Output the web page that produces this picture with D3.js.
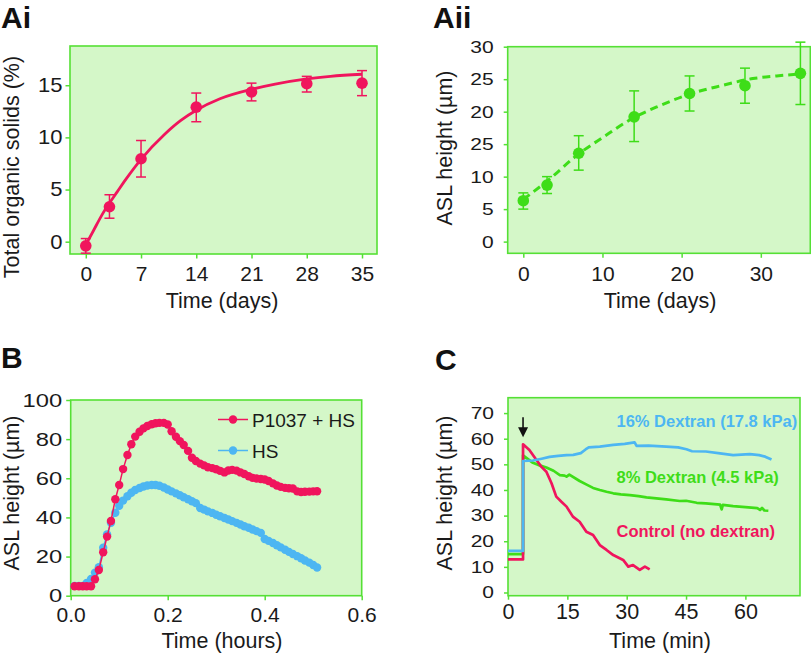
<!DOCTYPE html>
<html><head><meta charset="utf-8">
<script src="https://cdn.jsdelivr.net/npm/d3@7"></script>
<style>
body{margin:0;background:#fff}
svg{display:block}
text{font-family:"Liberation Sans",Arial,Helvetica,sans-serif}
</style>
</head><body>
<svg id="chart" width="811" height="657"></svg>
<script>
// ---------- Panel Ai : total organic solids ----------
const aiDays = [0, 3, 7, 14, 21, 28, 35];
const aiMean = [-0.4, 3.35, 7.95, 12.9, 14.35, 15.15, 15.2];
const aiLow  = [-1.1, 2.25, 6.2, 11.5, 13.5, 14.35, 14.0];
const aiHigh = [0.3, 4.5, 9.7, 14.25, 15.2, 15.85, 16.4];
const aiFitDays   = [0, 1, 2, 3, 4, 5, 7, 10, 12, 14, 17, 21, 24, 28, 31, 35];
const aiFitValues = [-0.3, 1.1, 2.5, 3.7, 4.8, 5.9, 7.9, 10.3, 11.6, 12.6, 13.7, 14.6, 15.1, 15.6, 15.85, 16.05];
const aiXTicks = [0, 7, 14, 21, 28, 35];
const aiYTicks = [0, 5, 10, 15];

// ---------- Panel Aii : ASL height vs days ----------
const aiiDays = [0, 3, 7, 14, 21, 28, 35];
const aiiMean = [6.3, 8.7, 13.6, 19.2, 22.8, 24.0, 25.9];
const aiiLow  = [5.0, 7.4, 11.0, 15.4, 20.1, 21.3, 21.1];
const aiiHigh = [7.5, 10.0, 16.3, 23.2, 25.5, 26.7, 30.7];
const aiiFitDays   = [0, 3, 7, 10, 14, 17, 21, 25, 29, 32, 35];
const aiiFitValues = [6.5, 9.3, 13.5, 16.0, 19.1, 20.8, 22.7, 24.0, 25.1, 25.5, 25.8];
const aiiXTicks = [0, 10, 20, 30];
const aiiYTicks = [0, 5, 10, 15, 20, 25, 30];
const aiiYTickLabels = ["0", "5", "10", "25", "20", "25", "30"];

// ---------- Panel B : ASL height vs hours ----------
const bTime = [0.008,0.017,0.025,0.033,0.042,0.050,0.058,0.067,0.075,0.083,0.092,0.100,0.108,0.117,0.125,0.133,0.142,0.150,0.158,0.167,0.175,0.183,0.192,0.200,0.208,0.217,0.225,0.233,0.242,0.250,0.258,0.267,0.275,0.283,0.292,0.300,0.308,0.317,0.325,0.333,0.342,0.350,0.358,0.367,0.375,0.383,0.392,0.400,0.408,0.417,0.425,0.433,0.442,0.450,0.458,0.467,0.475,0.483,0.492,0.500,0.508];
const bP1037 = [4.8,4.8,4.8,4.8,4.8,8.4,13.1,22.2,30.2,38.2,49.3,56.6,64.7,71.9,77.4,81.3,83.8,85.5,86.7,87.6,88.1,88.3,88.3,87.5,84.0,81.2,79.0,77.0,74.0,70.5,68.8,67.5,66.6,65.6,65.2,64.6,63.8,63.0,64.0,64.3,63.9,63.0,62.2,61.0,60.2,59.9,59.6,59.4,58.6,57.4,56.3,55.6,55.1,54.9,54.8,53.3,53.0,53.1,53.2,53.3,53.4];
const bHS = [5,5,5,6.5,8.5,11.8,14.5,24.5,31.3,37.3,42.4,46.0,48.6,50.8,52.6,54.0,55.0,55.8,56.3,56.6,56.6,56.2,55.3,54.3,53.3,52.3,51.3,50.3,49.3,48.3,47.3,44.8,44.0,43.1,42.3,41.4,40.6,39.7,38.9,38.1,37.2,36.4,35.5,34.7,33.8,33.0,32.1,29.0,28.0,26.9,25.8,24.7,23.5,22.4,21.3,20.2,19.1,18.0,16.9,15.7,14.4];
const bLegend = ["P1037 + HS", "HS"];
const bXTicks = [0, 0.2, 0.4, 0.6];
const bYTicks = [0, 20, 40, 60, 80, 100];

// ---------- Panel C : dextran ----------
const cBlueT = [0, 3.8, 3.8, 6.3, 8.5, 10.5, 12.7, 14.8, 16.5, 18.4, 19.6, 20.4, 23.2, 26.6, 29.5, 32.0, 32.5, 35.5, 40.0, 43.0, 45.1, 46.5, 50.0, 53.6, 56.9, 59.0, 61.1, 63.5, 65.0, 66.6];
const cBlueV = [16.2, 16.2, 51.3, 51.5, 52.2, 52.9, 53.3, 53.6, 53.7, 54.4, 55.8, 56.6, 56.9, 57.6, 58.0, 58.6, 57.2, 57.3, 56.9, 56.6, 55.9, 55.1, 55.0, 54.3, 53.6, 53.8, 54.0, 53.6, 53.0, 51.9];
const cGreenT = [0, 3.8, 3.8, 6.3, 8.0, 9.7, 11.5, 13.1, 14.3, 14.8, 15.5, 18.1, 20.0, 21.5, 23.2, 24.9, 26.6, 28.5, 30.8, 33.0, 35.0, 37.5, 40.0, 43.4, 45.0, 47.7, 50.0, 53.6, 54.0, 54.3, 56.9, 60.0, 63.0, 63.7, 64.2, 64.8, 65.8];
const cGreenV = [15.0, 15.0, 53.5, 50.6, 49.6, 48.8, 47.5, 45.8, 45.6, 45.2, 46.0, 43.5, 42.0, 40.8, 40.0, 39.3, 38.7, 38.3, 38.0, 37.6, 37.1, 36.7, 36.3, 35.7, 35.8, 35.0, 34.8, 34.3, 32.4, 34.2, 33.7, 33.3, 32.9, 32.2, 33.0, 32.0, 31.9];
const cRedT = [0, 3.8, 3.8, 5.4, 7.2, 8.4, 9.7, 11.0, 12.2, 13.5, 14.8, 16.4, 18.1, 19.8, 21.5, 23.2, 24.9, 26.6, 29.1, 30.4, 31.6, 33.3, 34.6, 35.8];
const cRedV = [12.9, 12.9, 57.8, 55.6, 51.7, 49.1, 47.1, 42.6, 37.4, 35.4, 33.5, 29.6, 27.6, 23.7, 22.4, 18.5, 16.6, 14.6, 12.7, 10.1, 10.7, 8.8, 10.1, 9.0];
const cLabels = ["16% Dextran (17.8 kPa)", "8% Dextran (4.5 kPa)", "Control (no dextran)"];
const cArrowTime = 3.8;
const cArrowFrom = 68.4, cArrowTo = 60.6;
const cXTicks = [0, 15, 30, 45, 60];
const cYTicks = [0, 10, 20, 30, 40, 50, 60, 70];

// ---------- styles ----------
const RED = "#f0155d", BLUE = "#4db6f2", GREEN = "#3edd18";
const FILL = "#d4f7c8", EDGE = "#55e035";
const svg = d3.select("#chart");

function frame(xs, ys) {
  const [x0, x1] = xs.range(), [y0, y1] = ys.range();
  svg.append("rect").attr("x", x0).attr("y", y1)
    .attr("width", x1 - x0).attr("height", y0 - y1)
    .attr("fill", FILL).attr("stroke", EDGE).attr("stroke-width", 1.6);
}
function styleAxis(g, fs) {
  g.select(".domain").remove();
  g.selectAll(".tick line").attr("stroke", EDGE).attr("stroke-width", 1.5);
  g.selectAll(".tick text").attr("fill", "#1a1a1a").style("font-size", fs + "px")
    .style("font-family", '"Liberation Sans",Arial,sans-serif');
}
function xAxis(xs, ys, ticks, fmt, size, pad, fs) {
  const g = svg.append("g").attr("transform", `translate(0,${ys.range()[0]})`)
    .call(d3.axisBottom(xs).tickValues(ticks).tickFormat(fmt).tickSize(size).tickPadding(pad));
  styleAxis(g, fs); return g;
}
function yAxis(xs, ys, ticks, fmt, size, pad, fs, sx, sy) {
  const g = svg.append("g").attr("transform", `translate(${xs.range()[0]},0)`)
    .call(d3.axisLeft(ys).tickValues(ticks).tickFormat(fmt).tickSize(size).tickPadding(pad));
  styleAxis(g, fs);
  if (sx !== 1 || sy !== 1) {
    g.selectAll(".tick text").attr("x", -(size + pad) / sx).attr("transform", `scale(${sx},${sy})`);
  }
  return g;
}
function title(x, y, txt, rot, fs) {
  const t = svg.append("text").attr("text-anchor", "middle").style("font-size", fs + "px").attr("fill", "#1a1a1a").text(txt);
  if (rot) t.attr("transform", `translate(${x},${y}) rotate(-90)`);
  else t.attr("x", x).attr("y", y);
}
function letter(x, y, txt) {
  svg.append("text").attr("x", x).attr("y", y).style("font-size", "30px").style("font-weight", "bold").attr("fill", "#111").text(txt);
}
function errorBars(xs, ys, xsData, lo, hi, color) {
  xsData.forEach((d, i) => {
    const cx = xs(d), yl = Math.min(ys(lo[i]), ys.range()[0]), yh = ys(hi[i]);
    svg.append("line").attr("x1", cx).attr("x2", cx).attr("y1", yl).attr("y2", yh).attr("stroke", color).attr("stroke-width", 1.5);
    svg.append("line").attr("x1", cx - 5).attr("x2", cx + 5).attr("y1", yh).attr("y2", yh).attr("stroke", color).attr("stroke-width", 1.5);
    if (ys(lo[i]) <= ys.range()[0])
      svg.append("line").attr("x1", cx - 5).attr("x2", cx + 5).attr("y1", yl).attr("y2", yl).attr("stroke", color).attr("stroke-width", 1.5);
  });
}

// ---------- Ai ----------
{
  const xs = d3.scaleLinear().domain([-2, 36.9]).range([70, 377]);
  const ys = d3.scaleLinear().domain([-1.18, 18.76]).range([254, 46]);
  frame(xs, ys);
  xAxis(xs, ys, aiXTicks, d3.format("d"), 4.5, 8, 21);
  yAxis(xs, ys, aiYTicks, d3.format("d"), 4.5, 3, 20, 1.1, 1);
  const line = d3.line().x(d => xs(d[0])).y(d => ys(d[1])).curve(d3.curveMonotoneX);
  svg.append("path").attr("d", line(aiFitDays.map((d, i) => [d, aiFitValues[i]])))
    .attr("fill", "none").attr("stroke", RED).attr("stroke-width", 2.8);
  errorBars(xs, ys, aiDays, aiLow, aiHigh, RED);
  svg.selectAll(null).data(aiDays).enter().append("circle")
    .attr("cx", d => xs(d)).attr("cy", (d, i) => ys(aiMean[i])).attr("r", 5.8).attr("fill", RED);
  title(222, 308, "Time (days)", false, 21.5);
  title(19, 167, "Total organic solids (%)", true, 21.5);
  letter(1, 28, "Ai");
}

// ---------- Aii ----------
{
  const xs = d3.scaleLinear().domain([-1.97, 36.25]).range([507.7, 810.3]);
  const ys = d3.scaleLinear().domain([-1.8, 30]).range([253.3, 46.7]);
  frame(xs, ys);
  xAxis(xs, ys, aiiXTicks, d3.format("d"), 4.5, 8, 21);
  yAxis(xs, ys, aiiYTicks, (d, i) => aiiYTickLabels[i], 4, 10, 21, 1, 0.82);
  const line = d3.line().x(d => xs(d[0])).y(d => ys(d[1])).curve(d3.curveMonotoneX);
  svg.append("path").attr("d", line(aiiFitDays.map((d, i) => [d, aiiFitValues[i]])))
    .attr("fill", "none").attr("stroke", GREEN).attr("stroke-width", 3).attr("stroke-dasharray", "8,5");
  errorBars(xs, ys, aiiDays, aiiLow, aiiHigh, GREEN);
  svg.selectAll(null).data(aiiDays).enter().append("circle")
    .attr("cx", d => xs(d)).attr("cy", (d, i) => ys(aiiMean[i])).attr("r", 5.8).attr("fill", GREEN);
  title(660, 308, "Time (days)", false, 21.5);
  title(452, 148, "ASL height (\u00b5m)", true, 21.5);
  letter(433, 28, "Aii");
}

// ---------- B ----------
{
  const xs = d3.scaleLinear().domain([0, 0.6]).range([70.7, 361.7]);
  const ys = d3.scaleLinear().domain([0, 100]).range([595.7, 400]);
  frame(xs, ys);
  xAxis(xs, ys, bXTicks, d3.format(".1f"), 4.5, 6.5, 21);
  yAxis(xs, ys, bYTicks, d3.format("d"), 4.5, 4, 19, 1.25, 1);
  const line = d3.line().x(d => xs(d[0])).y(d => ys(d[1]));
  const series = [[bHS, BLUE], [bP1037, RED]];
  series.forEach(([vals, col]) => {
    svg.append("path").attr("d", line(bTime.map((t, i) => [t, vals[i]])))
      .attr("fill", "none").attr("stroke", col).attr("stroke-width", 1.5);
    svg.selectAll(null).data(bTime).enter().append("circle")
      .attr("cx", d => xs(d)).attr("cy", (d, i) => ys(vals[i])).attr("r", 4.2).attr("fill", col);
  });
  // legend
  [[RED, 419.5, 427], [BLUE, 450.5, 458]].forEach(([col, ly, ty], i) => {
    svg.append("line").attr("x1", 218).attr("x2", 248).attr("y1", ly).attr("y2", ly).attr("stroke", col).attr("stroke-width", 1.5);
    svg.append("circle").attr("cx", 233).attr("cy", ly).attr("r", 4.2).attr("fill", col);
    svg.append("text").attr("x", 252).attr("y", ty).style("font-size", "19px").attr("fill", "#1a1a1a").text(bLegend[i]);
  });
  title(222, 648, "Time (hours)", false, 21.5);
  title(19, 493, "ASL height (\u00b5m)", true, 21.5);
  letter(1, 368, "B");
}

// ---------- C ----------
{
  const xs = d3.scaleLinear().domain([0, 73.8]).range([508, 800]);
  const ys = d3.scaleLinear().domain([-1.25, 76]).range([595.7, 397.7]);
  frame(xs, ys);
  xAxis(xs, ys, cXTicks, d3.format("d"), 4, 4, 21.5);
  yAxis(xs, ys, cYTicks, d3.format("d"), 4, 10, 21, 1, 0.8);
  const line = d3.line().x(d => xs(d[0])).y(d => ys(d[1]));
  [[cGreenT, cGreenV, GREEN], [cRedT, cRedV, RED], [cBlueT, cBlueV, BLUE]].forEach(([t, v, col]) => {
    svg.append("path").attr("d", line(t.map((d, i) => [d, v[i]])))
      .attr("fill", "none").attr("stroke", col).attr("stroke-width", 2.7).attr("stroke-linejoin", "round");
  });
  // arrow
  const ax = xs(cArrowTime), ay0 = ys(cArrowFrom), ay1 = ys(cArrowTo);
  svg.append("line").attr("x1", ax).attr("x2", ax).attr("y1", ay0).attr("y2", ay1 - 8).attr("stroke", "#111").attr("stroke-width", 1.6);
  svg.append("path").attr("d", `M${ax - 5},${ay1 - 10} L${ax + 5},${ay1 - 10} L${ax},${ay1} Z`).attr("fill", "#111");
  const labelCols = [BLUE, GREEN, RED], labelY = [426.5, 482.5, 536.5];
  cLabels.forEach((s, i) => {
    svg.append("text").attr("x", 616.5).attr("y", labelY[i]).style("font-size", "16.5px").style("font-weight", "bold")
      .attr("fill", labelCols[i]).text(s);
  });
  title(660, 648, "Time (min)", false, 21.5);
  title(452, 493, "ASL height (\u00b5m)", true, 21.5);
  letter(435, 370, "C");
}
</script>
</body></html>
